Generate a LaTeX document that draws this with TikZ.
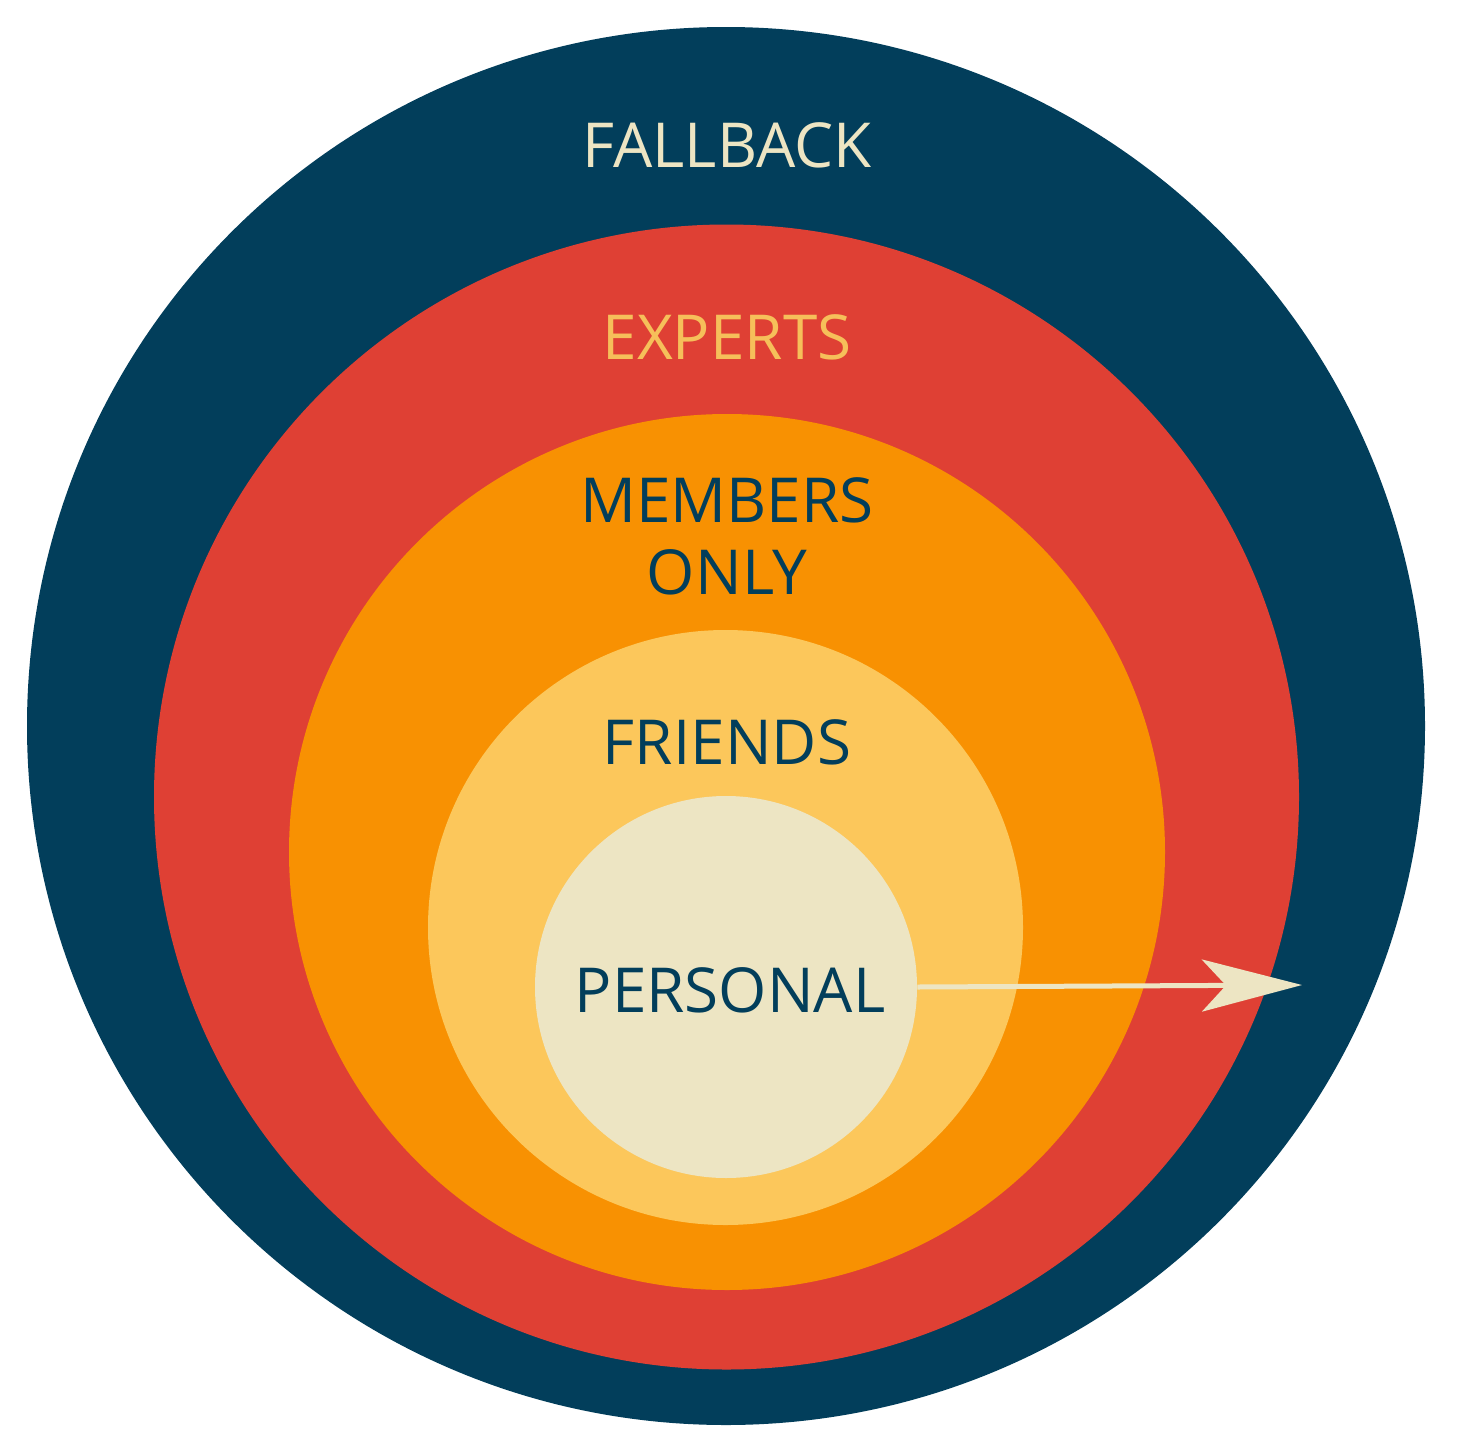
\documentclass[tikz,border=0pt]{standalone}
\usepackage{fontspec}
\setmainfont{Open Sans}
\usetikzlibrary{arrows.meta}
\definecolor{navy}{HTML}{023E5B}
\definecolor{redring}{HTML}{DF4034}
\definecolor{orangering}{HTML}{F89102}
\definecolor{yellowring}{HTML}{FCC75B}
\definecolor{cream}{HTML}{EDE5C3}
\definecolor{gold}{HTML}{F6BF5A}
\tikzset{
  ring/.style={circle,inner sep=0pt,draw=none},
  lbl/.style={font=\fontsize{31}{36}\selectfont,align=center}
}
\begin{document}
\begin{tikzpicture}[x=0.5pt,y=-0.5pt]
\useasboundingbox (0,0) rectangle (1456,1456);
\fill[white] (0,0) rectangle (1456,1456);
% rings, outside in
\node[ring,fill=navy,minimum size=699pt] (fallbackc) at (726,726) {};
\node[ring,fill=redring,minimum size=572.5pt] (expertsc) at (726.5,797) {};
\node[ring,fill=orangering,minimum size=438pt] (membersc) at (727,852) {};
\node[ring,fill=yellowring,minimum size=297.5pt] (friendsc) at (725.5,927.5) {};
\node[ring,fill=cream,minimum size=191pt] (personalc) at (726,987) {};
% labels
\node[lbl,text=cream] (fallback) at (727,145) {FALLBACK};
\node[lbl,text=gold] (experts) at (727,337) {EXPERTS};
\node[lbl,text=navy] (members) at (727,536) {MEMBERS\\ONLY};
\node[lbl,text=navy] (friends) at (727,742) {FRIENDS};
\node[lbl,text=navy] (personal) at (730,990) {PERSONAL};
% arrow
\coordinate (tip) at (1302,985);
\draw[cream,line width=2.5pt,-{Stealth[length=50pt,width=26pt,inset=12pt]}]
  (personalc.east) -- (tip);
\end{tikzpicture}
\end{document}
